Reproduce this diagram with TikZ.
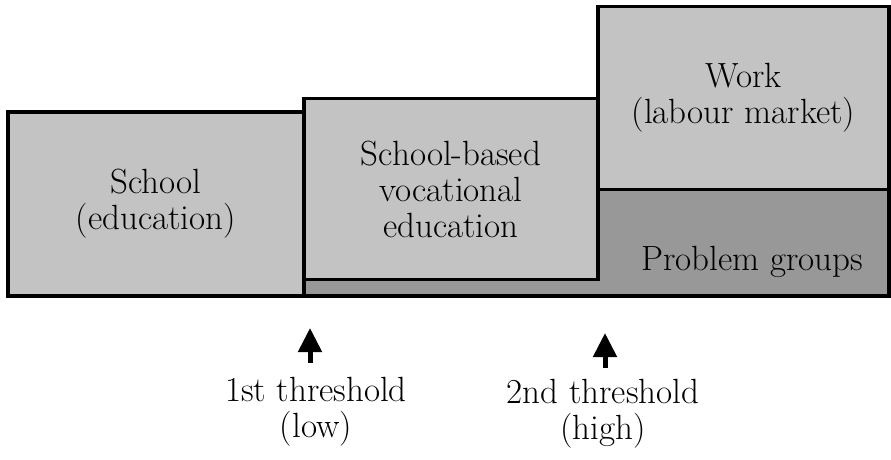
\documentclass[tikz,border=0pt]{standalone}
\usepackage{tikz, xcolor}
\usetikzlibrary{shapes,arrows.meta}

\definecolor{boxlight}{RGB}{195,195,195}
\definecolor{boxdark}{RGB}{152,152,152}

\begin{document}
\begin{tikzpicture}[x=1pt, y=-1pt, font=\fontsize{35}{36}\selectfont]
\tikzstyle{stage}=[rectangle, draw=black, line width=3.5pt, fill=boxlight, inner sep=0pt, align=center]
\tikzstyle{stagedark}=[stage, fill=boxdark]
\tikzstyle{label}=[inner sep=0pt, align=center]
\tikzstyle{drawstyle}=[line width=5pt, -{Triangle[width=23pt,length=24pt]}]

\useasboundingbox (0,0) rectangle (891,459);

\node[stage, minimum width=296pt, minimum height=184pt] (G0x0) at (156,204) {School\\(education)};
\node[stagedark, minimum width=585pt, minimum height=107pt] (G1x1) at (596.5,242.5) {};
\node[stage, minimum width=294pt, minimum height=181pt] (G1x0) at (451,189) {School-based\\vocational\\education};
\node[stage, minimum width=291pt, minimum height=183pt] (G2x0) at (743.5,98) {Work\\(labour market)};
\node[label] (G2x1) at (752,262) {Problem groups};

\node[label] (T1x0) at (316,412) {1st threshold\\(low)};
\node[label] (T2x0) at (603,414) {2nd threshold\\(high)};
\coordinate (A1s) at (310,363);
\coordinate (A1e) at (310,328);
\coordinate (A2s) at (605,368);
\coordinate (A2e) at (605,333);
\draw[drawstyle] (A1s) -- (A1e);
\draw[drawstyle] (A2s) -- (A2e);
\end{tikzpicture}
\end{document}
